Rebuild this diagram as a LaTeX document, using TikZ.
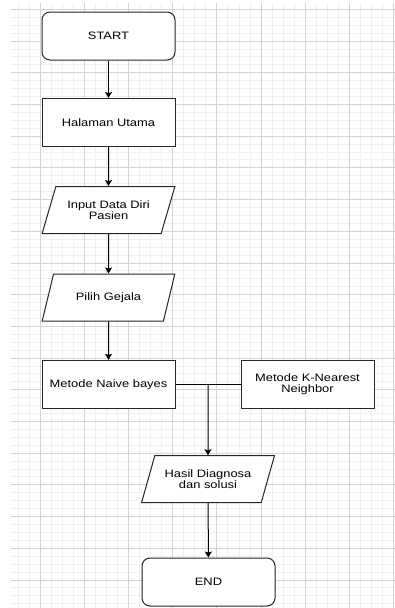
\documentclass[tikz,border=0pt]{standalone}
\usepackage{fontspec}
\setmainfont{Liberation Sans}[FakeStretch=1.2]
\usetikzlibrary{arrows.meta,shapes.geometric}

\begin{document}
\begin{tikzpicture}[x=1pt,y=-1pt,
        font=\fontsize{10.75pt}{11.6pt}\selectfont,
        minorgrid/.style={black!6,line width=0.8pt},
        majorgrid/.style={black!17,line width=0.8pt},
        terminal/.style={draw=black!85,line width=1pt,rounded corners=8pt,
            minimum width=133pt,minimum height=48pt,align=center,fill=white},
        process/.style={draw=black!85,line width=1pt,
            minimum width=133pt,minimum height=48pt,align=center,fill=white},
        io/.style={draw=black!85,line width=1pt,trapezium,trapezium stretches=true,
            trapezium left angle=66,trapezium right angle=114,
            minimum width=133pt,minimum height=47pt,align=center,fill=white},
        flow/.style={-{Stealth[length=6pt,width=7pt,inset=1.2pt]},line width=1pt}]
    \useasboundingbox (0,0) rectangle (395,608);
    % grid
    \begin{scope}
    \clip (11,3) rectangle (395,608);
    \foreach \i in {-3,...,32}
        \draw[minorgrid] ({40+11.05*\i},3) -- ({40+11.05*\i},608);
    \foreach \i in {-1,...,76}
        \draw[minorgrid] (11,{9.3+7.925*\i}) -- (395,{9.3+7.925*\i});
    \foreach \i in {0,...,8}
        \draw[majorgrid] ({40+44.2*\i},3) -- ({40+44.2*\i},608);
    \foreach \i in {0,...,19}
        \draw[majorgrid] (11,{9.3+31.7*\i}) -- (395,{9.3+31.7*\i});
    \end{scope}

    \node[terminal] (start) at (108.5,36) {START};
    \node[process] (utama) at (108.5,122.5) {Halaman Utama};
    \node[io] (input) at (108.5,210) {Input Data Diri\\Pasien};
    \node[io] (gejala) at (108.5,297.5) {Pilih Gejala};
    \node[process] (naive) at (108.5,384.3) {Metode Naive bayes};
    \node[process] (knn) at (307.5,384.3) {Metode K-Nearest\\Neighbor};
    \node[io] (hasil) at (208,479.2) {Hasil Diagnosa\\dan solusi};
    \node[terminal] (end) at (208.5,582) {END};
    \coordinate (join) at (hasil.north |- naive.east);

    \draw[flow] (start) -- (utama);
    \draw[flow] (utama) -- (input);
    \draw[flow] (input) -- (gejala);
    \draw[flow] (gejala) -- (naive);
    \draw[line width=1pt] (naive.east) -- (knn.west);
    \draw[flow] (join) -- (hasil);
    \draw[flow] (hasil) -- (end);
\end{tikzpicture}
\end{document}
